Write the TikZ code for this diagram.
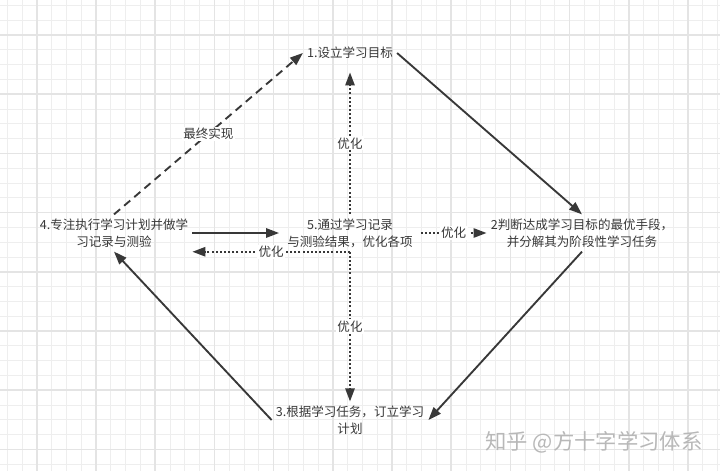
\documentclass[tikz,border=0pt]{standalone}
\usepackage{fontspec}
\newfontfamily\cjk{Noto Sans CJK SC}
\usetikzlibrary{arrows.meta}
\definecolor{ink}{HTML}{383838}
\definecolor{gridlo}{HTML}{EEEEEE}
\definecolor{gridhi}{HTML}{E4E4E4}
\definecolor{mark}{HTML}{B8B8B8}

\begin{document}
\begin{tikzpicture} [x=.75pt,y=-.75pt,
  txt/.style={font=\cjk\fontsize{9.4}{12.75}\selectfont,text=ink,align=center,inner xsep=3pt,inner ysep=3pt},
  lbl/.style={font=\cjk\fontsize{9.4}{12.75}\selectfont,text=ink,fill=white,inner sep=1pt},
  link/.style={draw=ink,line width=1.4pt,-{Triangle[length=9.75pt,width=7pt]}},
  opt/.style={link,line width=1.3pt,dash pattern=on 1.5pt off 1.6pt}]

\fill[white] (0,0) rectangle (720,471);
\useasboundingbox (0,0) rectangle (720,471);
\foreach \i in {-2,...,46} \draw[gridlo,line width=.6pt] ({36.7+14.8*\i},0) -- ({36.7+14.8*\i},471);
\foreach \j in {-2,...,29} \draw[gridlo,line width=.6pt] (0,{35+14.8*\j}) -- (720,{35+14.8*\j});
\foreach \i in {0,...,11} \draw[gridhi,line width=1.2pt] ({36.7+59.2*\i},0) -- ({36.7+59.2*\i},471);
\foreach \j in {0,...,7} \draw[gridhi,line width=1.2pt] (0,{35+59.2*\j}) -- (720,{35+59.2*\j});

\node[txt,inner ysep=10pt] (A) at (350,53) {1.设立学习目标};
\node[txt] (B) at (582,233) {2判断达成学习目标的最优手段，\\并分解其为阶段性学习任务};
\node[txt] (C) at (350,420) {3.根据学习任务，订立学习\\计划};
\node[txt] (D) at (114,233) {4.专注执行学习计划并做学\\习记录与测验};
\node[txt,inner xsep=6pt] (E) at (350,233) {5.通过学习记录\\与测验结果，优化各项};

\draw[link] (A.east) -- (B.north);
\draw[link] (B.south) -- (C.east);
\draw[link] (C.west) -- (D.south);
\draw[link,dash pattern=on 6pt off 4pt] (D.north) -- node[lbl] {最终实现} (A.west);
\draw[link] (D.east) -- (E.west);

\draw[opt] (E.north) -- node[lbl] {优化} (A.south);
\draw[opt] (E.south) -- node[lbl] {优化} (C.north);
\draw[opt] (E.east) -- node[lbl] {优化} (B.west);
\draw[opt] (E.south) -- node[lbl] {优化} (E.south -| D.east);

\node[font=\cjk\fontsize{16}{16}\selectfont,text=mark] (W) at (594,442) {知乎 @方十字学习体系};

\end{tikzpicture}
\end{document}
